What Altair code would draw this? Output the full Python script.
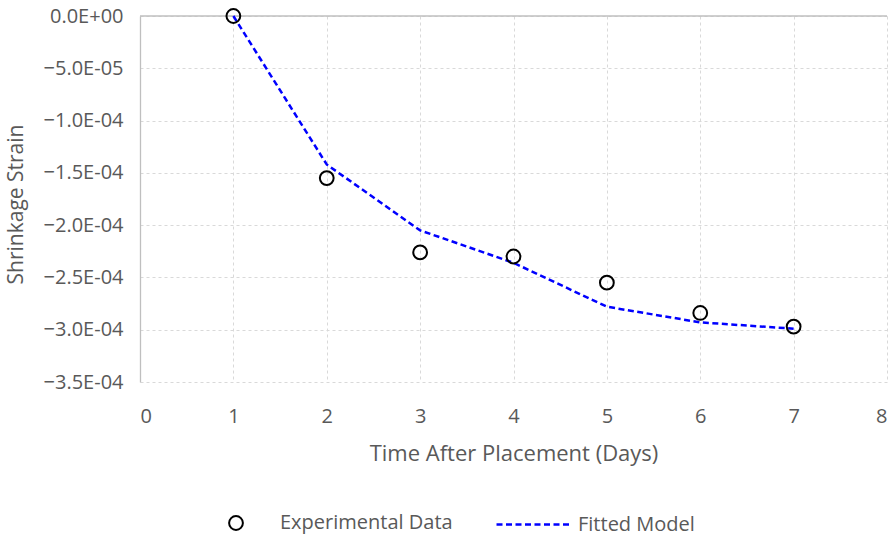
import altair as alt
import pandas as pd

# Shrinkage strain over the first week after placement
days = [1, 2, 3, 4, 5, 6, 7]
measured = [0.0, -1.55e-4, -2.26e-4, -2.30e-4, -2.55e-4, -2.84e-4, -2.97e-4]
fitted = [0.0, -1.42e-4, -2.05e-4, -2.36e-4, -2.78e-4, -2.93e-4, -2.99e-4]

y_ticks = [0.0, -5e-5, -1e-4, -1.5e-4, -2e-4, -2.5e-4, -3e-4, -3.5e-4]
x_ticks = [0, 1, 2, 3, 4, 5, 6, 7, 8]

FONT = "Open Sans"
TEXT = "#595959"
GRID = "#d9d9d9"
AXIS = "#bfbfbf"

meas_df = pd.DataFrame({"day": days, "strain": measured, "series": "Experimental Data"})
fit_df = pd.DataFrame({"day": days, "strain": fitted, "series": "Fitted Model"})

x_enc = alt.X(
    "day:Q",
    scale=alt.Scale(domain=[0, 8], nice=False, zero=False),
    axis=alt.Axis(
        values=x_ticks,
        title="Time After Placement (Days)",
        grid=True, gridColor=GRID, gridDash=[3, 3], gridWidth=1,
        domain=False, ticks=False,
        labelFont=FONT, labelFontSize=20, labelColor=TEXT, labelPadding=24,
        titleFont=FONT, titleFontSize=22, titleFontWeight="normal", titleColor=TEXT,
        titleY=71, titleBaseline="middle",
    ),
)

y_enc = alt.Y(
    "strain:Q",
    scale=alt.Scale(domain=[-3.5e-4, 0], nice=False, zero=False),
    axis=alt.Axis(
        values=y_ticks,
        title="Shrinkage Strain",
        labelExpr="replace(replace(format(datum.value, '.1e'), 'e-', 'E-0'), 'e+', 'E+0')",
        grid=True, gridColor=GRID, gridDash=[3, 3], gridWidth=1,
        domain=True, domainColor=AXIS, domainWidth=1.3,
        ticks=False,
        labelFont=FONT, labelFontSize=20, labelColor=TEXT, labelPadding=17,
        titleFont=FONT, titleFontSize=21, titleFontWeight="normal", titleColor=TEXT,
        titleX=-124, titleY=188, titleAngle=-90, titleAlign="center", titleBaseline="middle",
    ),
)

# solid horizontal line along strain = 0
zero_rule = alt.Chart(pd.DataFrame({"strain": [0.0]})).mark_rule(
    color=AXIS, strokeWidth=1.3
).encode(y=alt.Y("strain:Q"))

fit_line = alt.Chart(fit_df).mark_line(
    color="#0000ff", strokeWidth=2.5, strokeCap="butt"
).encode(
    x=x_enc,
    y=y_enc,
    strokeDash=alt.StrokeDash(
        "series:N",
        scale=alt.Scale(domain=["Fitted Model"], range=[[6, 3.5]]),
        legend=alt.Legend(
            title=None, orient="none", legendX=355, legendY=469.5, padding=0,
            symbolType="stroke", symbolSize=5625, symbolStrokeColor="#0000ff",
            symbolStrokeWidth=2.5, labelOffset=5, labelLimit=400,
            labelFont=FONT, labelFontSize=20, labelColor=TEXT,
        ),
    ),
)

points = alt.Chart(meas_df).mark_point(
    shape="circle", filled=False, color="black", strokeWidth=2, size=190, opacity=1
).encode(
    x=x_enc,
    y=y_enc,
    shape=alt.Shape(
        "series:N",
        scale=alt.Scale(domain=["Experimental Data"], range=["circle"]),
        legend=alt.Legend(
            title=None, orient="none", legendX=86, legendY=497, padding=0,
            symbolSize=190, symbolStrokeColor="black", symbolFillColor="transparent",
            symbolStrokeWidth=2, labelOffset=34, labelLimit=400,
            labelFont=FONT, labelFontSize=20, labelColor=TEXT,
        ),
    ),
)

chart = alt.layer(zero_rule, fit_line, points).resolve_legend(
    shape="independent", strokeDash="independent"
).properties(
    width=747,
    height=366,
    padding={"left": 140, "top": 16, "right": 7, "bottom": 154},
    autosize=alt.AutoSizeParams(type="none"),
    background="white",
).configure_view(stroke=None)

chart.save("out.html", embed_options={"renderer": "svg", "actions": False})
